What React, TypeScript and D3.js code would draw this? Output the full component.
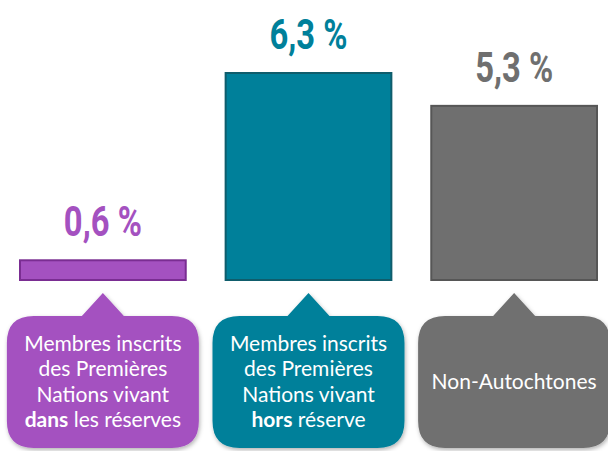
import React from "react";
import * as d3 from "d3";

const categories = ["dans", "hors", "non"];
const values = [0.6, 6.3, 5.3];
const valueLabels = ["0,6 %", "6,3 %", "5,3 %"];
const fills = ["#a451c0", "#00809a", "#6f6f6f"];
const strokes = ["#7a2d92", "#0f5d6c", "#565656"];
const calloutLines: { text: string; bold?: boolean }[][][] = [
  [
    [{ text: "Membres inscrits" }],
    [{ text: "des Premières" }],
    [{ text: "Nations vivant" }],
    [{ text: "dans", bold: true }, { text: " les réserves" }],
  ],
  [
    [{ text: "Membres inscrits" }],
    [{ text: "des Premières" }],
    [{ text: "Nations vivant" }],
    [{ text: "hors", bold: true }, { text: " réserve" }],
  ],
  [[{ text: "Non-Autochtones" }]],
];

const W = 608;
const H = 451;

export default function App() {
  const x = d3.scaleBand<string>().domain(categories).range([20, 597]).paddingInner(0.194).paddingOuter(0);
  const y = d3.scaleLinear().domain([0, 6.3]).range([280, 73]);

  const boxW = 192;
  const boxTop = 316;
  const boxBottom = 448;
  const r = 27;
  const apexY = 293;
  const halfBase = 21;
  const lineH = 25.2;

  const calloutPath = (cx: number) => {
    const l = cx - boxW / 2;
    const rr = cx + boxW / 2;
    return [
      `M${l + r},${boxTop}`,
      `L${cx - halfBase},${boxTop}`,
      `L${cx},${apexY}`,
      `L${cx + halfBase},${boxTop}`,
      `L${rr - r},${boxTop}`,
      `Q${rr},${boxTop} ${rr},${boxTop + r}`,
      `L${rr},${boxBottom - r}`,
      `Q${rr},${boxBottom} ${rr - r},${boxBottom}`,
      `L${l + r},${boxBottom}`,
      `Q${l},${boxBottom} ${l},${boxBottom - r}`,
      `L${l},${boxTop + r}`,
      `Q${l},${boxTop} ${l + r},${boxTop}`,
      "Z",
    ].join(" ");
  };

  return (
    <svg width={W} height={H} style={{ position: "absolute", left: 0, top: 0 }}>
      <defs>
        <filter id="sh" x="-10%" y="-10%" width="120%" height="130%">
          <feDropShadow dx="1" dy="2" stdDeviation="2" floodColor="#000" floodOpacity="0.3" />
        </filter>
      </defs>
      {categories.map((c, i) => {
        const bx = x(c)!;
        const bw = x.bandwidth();
        const cx = bx + bw / 2;
        const top = y(values[i]);
        const lines = calloutLines[i];
        const midY = (boxTop + boxBottom) / 2;
        const firstBaseline = midY + 7 - ((lines.length - 1) * lineH) / 2;
        return (
          <g key={c}>
            <rect x={bx} y={top} width={bw} height={y(0) - top} fill={fills[i]} stroke={strokes[i]} strokeWidth={2} />
            <text
              x={cx}
              y={top - 24}
              textAnchor="middle"
              fill={fills[i]}
              fontFamily="Roboto, sans-serif"
              fontWeight={700}
              fontSize={43}
              textLength={78}
              lengthAdjust="spacingAndGlyphs"
            >
              {valueLabels[i]}
            </text>
            <path d={calloutPath(cx)} fill={fills[i]} filter="url(#sh)" />
            {lines.map((ln, j) => (
              <text
                key={j}
                x={cx}
                y={firstBaseline + j * lineH}
                textAnchor="middle"
                fill="#fff"
                fontFamily="Lato, sans-serif"
                fontSize={21}
              >
                {ln.map((seg, k) => (
                  <tspan key={k} fontWeight={seg.bold ? 700 : 400}>
                    {seg.text}
                  </tspan>
                ))}
              </text>
            ))}
          </g>
        );
      })}
    </svg>
  );
}
